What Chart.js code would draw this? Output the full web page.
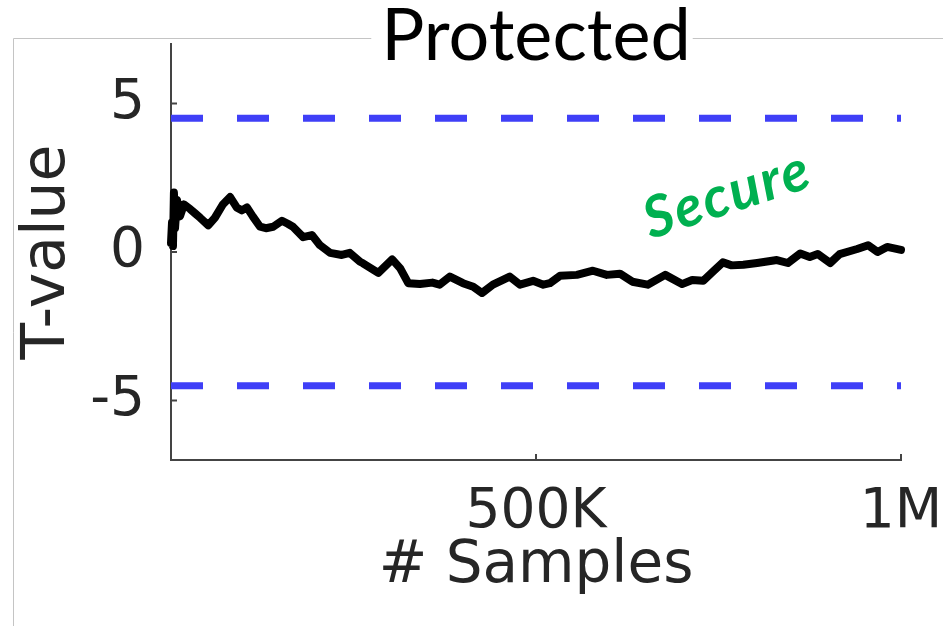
<!DOCTYPE html>
<html>
<head>
<meta charset="utf-8">
<title>Protected</title>
<script src="https://cdn.jsdelivr.net/npm/chart.js@4.4.0/dist/chart.umd.min.js"></script>
<style>
  html, body { margin: 0; padding: 0; background: #fff; }
</style>
</head>
<body>
<canvas id="tChart" width="943" height="626"></canvas>
<script>
// t-test trace: samples (in thousands) and T statistic
const samplesK = [0, 1.4, 2.7, 4, 5.5, 8.2, 12.3, 17.8, 26, 33, 40, 51, 60, 71, 81, 90, 97, 104, 112, 122, 130, 140, 152, 160, 167, 181, 193, 204, 218, 234, 245, 259, 263, 284, 303, 314, 325, 341, 358, 368, 382, 400, 414, 426, 441, 464, 478, 496, 510, 519, 533, 556, 578, 597, 615, 632, 653, 677, 700, 714, 729, 742, 756, 768, 784, 803, 830, 845, 862, 875, 886, 903, 916, 940, 955, 968, 981, 1000];
const tValues = [0.3, 1.0, 0.2, 2.0, 0.8, 1.75, 1.2, 1.6, 1.45, 1.3, 1.15, 0.9, 1.15, 1.6, 1.85, 1.5, 1.4, 1.5, 1.2, 0.85, 0.8, 0.85, 1.05, 0.95, 0.85, 0.5, 0.57, 0.23, -0.03, -0.1, -0.03, -0.33, -0.38, -0.7, -0.25, -0.55, -1.05, -1.08, -1.03, -1.1, -0.83, -1.05, -1.17, -1.38, -1.1, -0.83, -1.1, -0.97, -1.1, -1.05, -0.8, -0.77, -0.63, -0.77, -0.73, -1.0, -1.1, -0.77, -1.08, -0.94, -0.97, -0.67, -0.35, -0.45, -0.43, -0.37, -0.27, -0.37, -0.05, -0.17, -0.07, -0.37, -0.07, 0.1, 0.23, 0.0, 0.17, 0.07];

// leakage threshold (+/-)
const thresholdT = 4.5;

const xTickValues = [500000, 1000000];
const xTickLabels = ["500K", "1M"];
const yTickValues = [-5, 0, 5];
const yTickLabels = ["-5", "0", "5"];

const noteText = "Secure";
const notePos = { x: 762000, y: 1.92 };

const axisColor = "#444444";
const textColor = "#262626";
const titleFont = { family: "Lato", size: 72, weight: "normal", lineHeight: 1 };

const tracePoints = samplesK.map((k, i) => ({ x: k * 1000, y: tValues[i] }));

// light frame around the figure, broken where the title sits
const figureFrame = {
  id: "figureFrame",
  beforeDraw(chart) {
    const { ctx, chartArea } = chart;
    ctx.save();
    ctx.font = `${titleFont.size}px ${titleFont.family}`;
    const w = ctx.measureText("Protected").width;
    const cx = (chartArea.left + chartArea.right) / 2;
    ctx.strokeStyle = "#c4c4c4";
    ctx.lineWidth = 1;
    ctx.beginPath();
    ctx.moveTo(13.5, chart.height);
    ctx.lineTo(13.5, 38.5);
    ctx.lineTo(cx - w / 2 - 10, 38.5);
    ctx.moveTo(cx + w / 2 + 2, 38.5);
    ctx.lineTo(chart.width, 38.5);
    ctx.stroke();
    ctx.restore();
  }
};

// short tick marks pointing into the plot
const inwardTicks = {
  id: "inwardTicks",
  beforeDatasetsDraw(chart) {
    const { ctx, chartArea, scales: { x, y } } = chart;
    ctx.save();
    ctx.strokeStyle = axisColor;
    ctx.lineWidth = 2;
    ctx.beginPath();
    yTickValues.forEach((v) => {
      const py = y.getPixelForValue(v);
      ctx.moveTo(chartArea.left, py);
      ctx.lineTo(chartArea.left + 6, py);
    });
    xTickValues.forEach((v) => {
      const px = x.getPixelForValue(v);
      ctx.moveTo(px, chartArea.bottom);
      ctx.lineTo(px, chartArea.bottom - 6);
    });
    ctx.stroke();
    ctx.restore();
  }
};

// green rotated note inside the safe band
const secureNote = {
  id: "secureNote",
  afterDraw(chart) {
    const { ctx, scales: { x, y } } = chart;
    ctx.save();
    ctx.translate(x.getPixelForValue(notePos.x), y.getPixelForValue(notePos.y));
    ctx.rotate(-18 * Math.PI / 180);
    ctx.font = "italic bold 57px Lato";
    ctx.letterSpacing = "2px";
    ctx.fillStyle = "#00b050";
    ctx.textAlign = "center";
    ctx.textBaseline = "middle";
    ctx.fillText(noteText, 0, 0);
    ctx.restore();
  }
};

const ctx = document.getElementById("tChart").getContext("2d");
new Chart(ctx, {
  type: "line",
  data: {
    datasets: [
      {
        data: [{ x: 0, y: thresholdT }, { x: 1000000, y: thresholdT }],
        borderColor: "#3f3ff7",
        borderWidth: 7,
        borderDash: [32, 34],
        pointRadius: 0
      },
      {
        data: [{ x: 0, y: -thresholdT }, { x: 1000000, y: -thresholdT }],
        borderColor: "#3f3ff7",
        borderWidth: 7,
        borderDash: [32, 34],
        pointRadius: 0
      },
      {
        data: tracePoints,
        borderColor: "#000000",
        borderWidth: 8,
        borderJoinStyle: "round",
        borderCapStyle: "round",
        pointRadius: 0,
        tension: 0,
        clip: false
      }
    ]
  },
  options: {
    responsive: false,
    animation: false,
    layout: { padding: 0 },
    plugins: {
      legend: { display: false },
      tooltip: { enabled: false },
      title: {
        display: true,
        text: "Protected",
        fullSize: false,
        color: "#000000",
        font: titleFont,
        padding: { top: 1, bottom: -29 }
      }
    },
    scales: {
      x: {
        type: "linear",
        min: 0,
        max: 1000000,
        afterBuildTicks: (s) => { s.ticks = xTickValues.map((v) => ({ value: v })); },
        afterFit: (s) => { s.height = 166; s.paddingLeft = 0; s.paddingRight = 42; },
        ticks: {
          callback: (v, i) => xTickLabels[i],
          font: { family: "DejaVu Sans", size: 55 },
          color: textColor,
          padding: 20,
          maxRotation: 0,
          autoSkip: false
        },
        grid: { display: false, drawTicks: false },
        border: { display: true, color: axisColor, width: 2 },
        title: {
          display: true,
          text: "# Samples",
          font: { family: "DejaVu Sans", size: 58 },
          color: textColor,
          padding: { top: 0, bottom: 24 }
        }
      },
      y: {
        type: "linear",
        min: -7,
        max: 7,
        afterBuildTicks: (s) => { s.ticks = yTickValues.map((v) => ({ value: v })); },
        afterFit: (s) => { s.width = 171; s.paddingTop = 0; s.paddingBottom = 0; },
        ticks: {
          callback: (v, i) => yTickLabels[i],
          font: { family: "DejaVu Sans", size: 55 },
          color: textColor,
          padding: 26
        },
        grid: { display: false, drawTicks: false },
        border: { display: true, color: axisColor, width: 2 },
        title: {
          display: true,
          text: "T-value",
          font: { family: "DejaVu Sans", size: 60 },
          color: textColor,
          padding: { top: 12, bottom: 0 }
        }
      }
    }
  },
  plugins: [figureFrame, inwardTicks, secureNote]
});
</script>
</body>
</html>
